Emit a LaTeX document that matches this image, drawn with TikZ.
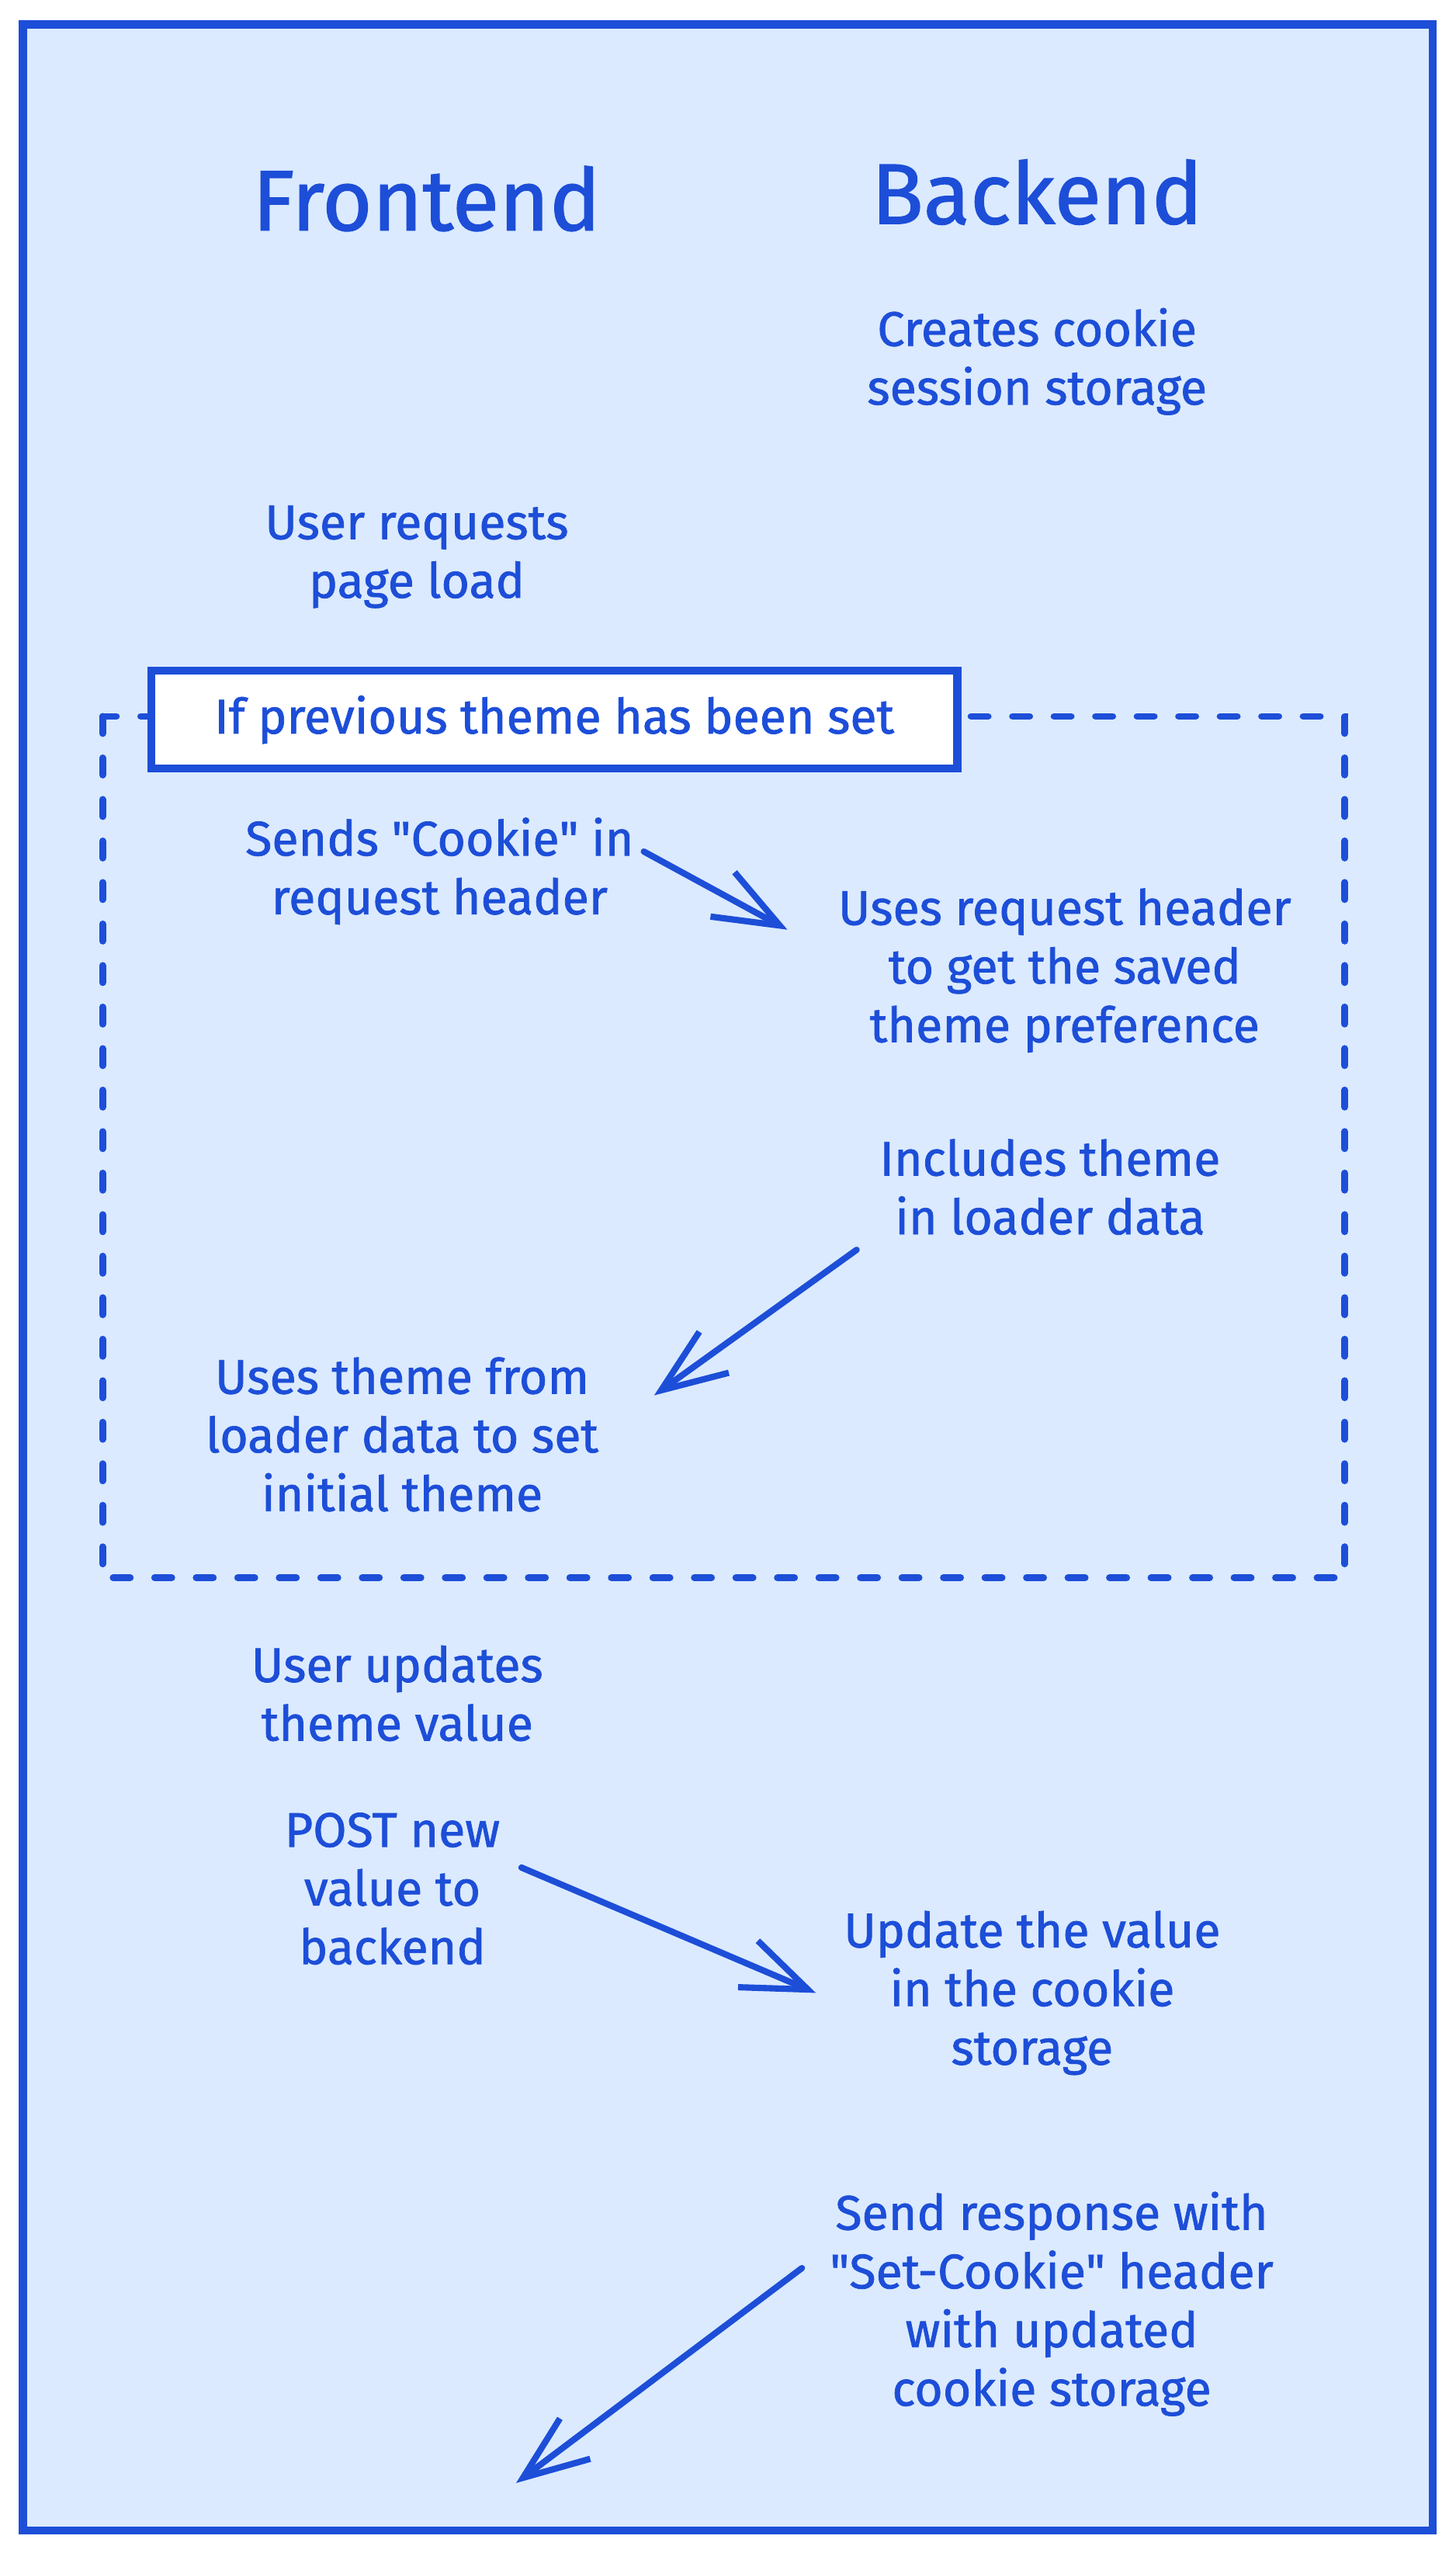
\documentclass[tikz,border=0pt]{standalone}
\usepackage{fontspec}
\setmainfont{Fira Sans}[FakeBold=1.2]
\usetikzlibrary{arrows.meta,positioning}
\definecolor{inkblue}{HTML}{1D4ED8}
\definecolor{paleblue}{HTML}{DBEAFE}
\tikzset{
  note/.style={text=inkblue, align=center, font=\fontsize{17}{20.5}\selectfont},
  heading/.style={text=inkblue, font=\fontsize{30}{36}\selectfont},
  flow/.style={draw=inkblue, line width=2.2pt, line cap=round,
    -{Straight Barb[length=0.8cm,width=0.62cm]}},
}

\begin{document}
\begin{tikzpicture}
    \useasboundingbox (0,0) rectangle (17.88,-31.36);
    % outer frame
    \filldraw[fill=paleblue, draw=inkblue, line width=2.8pt]
        (0.28,-0.30) rectangle (17.60,-31.08);

    % column headings
    \node[heading] (front) at (5.24,-2.44) {Frontend};
    \node[heading] (back) at (12.74,-2.36) {Backend};

    \node[note] (creates) at (12.74,-4.44) {Creates cookie\\session storage};
    \node[note] (userreq) at (5.12,-6.84) {User requests\\page load};

    % conditional block
    \draw[inkblue, line width=2.4pt, line cap=round, dash pattern=on 0.21cm off 0.30cm]
        (1.26,-8.80) rectangle (16.52,-19.38);
    \node[note, draw=inkblue, fill=white, line width=2.8pt,
        minimum width=9.9cm, minimum height=1.2cm] (cond) at (6.81,-8.84)
        {If previous theme has been set};

    \node[note] (sends) at (5.40,-10.70)
        {Sends \textquotedbl Cookie\textquotedbl{} in\\request header};
    \node[note] (usesreq) at (13.08,-11.92)
        {Uses request header\\to get the saved\\theme preference};
    \node[note] (incl) at (12.90,-14.58) {Includes theme\\in loader data};
    \node[note] (usetheme) at (4.94,-17.62)
        {Uses theme from\\loader data to set\\initial theme};

    \draw[flow] ([yshift=0.24cm]sends.east) -- ([xshift=-0.5cm,yshift=0.5cm]usesreq.west);
    \draw[flow] ([xshift=-0.16cm,yshift=-0.06cm]incl.south west)
        -- ([xshift=0.56cm,yshift=0.48cm]usetheme.east);

    % after the block
    \node[note] (userupd) at (4.88,-20.80) {User updates\\theme value};
    \node[note] (post) at (4.82,-23.20) {POST new\\value to\\backend};
    \node[note] (update) at (12.68,-24.48)
        {Update the value\\in the cookie\\storage};
    \node[note] (sendresp) at (12.92,-28.30)
        {Send response with\\\textquotedbl Set-Cookie\textquotedbl{} header\\with updated\\cookie storage};
    \coordinate (client) at (6.34,-30.50);

    \draw[flow] ([xshift=0.14cm,yshift=0.26cm]post.east) -- ([xshift=-0.22cm]update.west);
    \draw[flow] ([xshift=-0.22cm,yshift=0.44cm]sendresp.west) -- (client);
\end{tikzpicture}
\end{document}
